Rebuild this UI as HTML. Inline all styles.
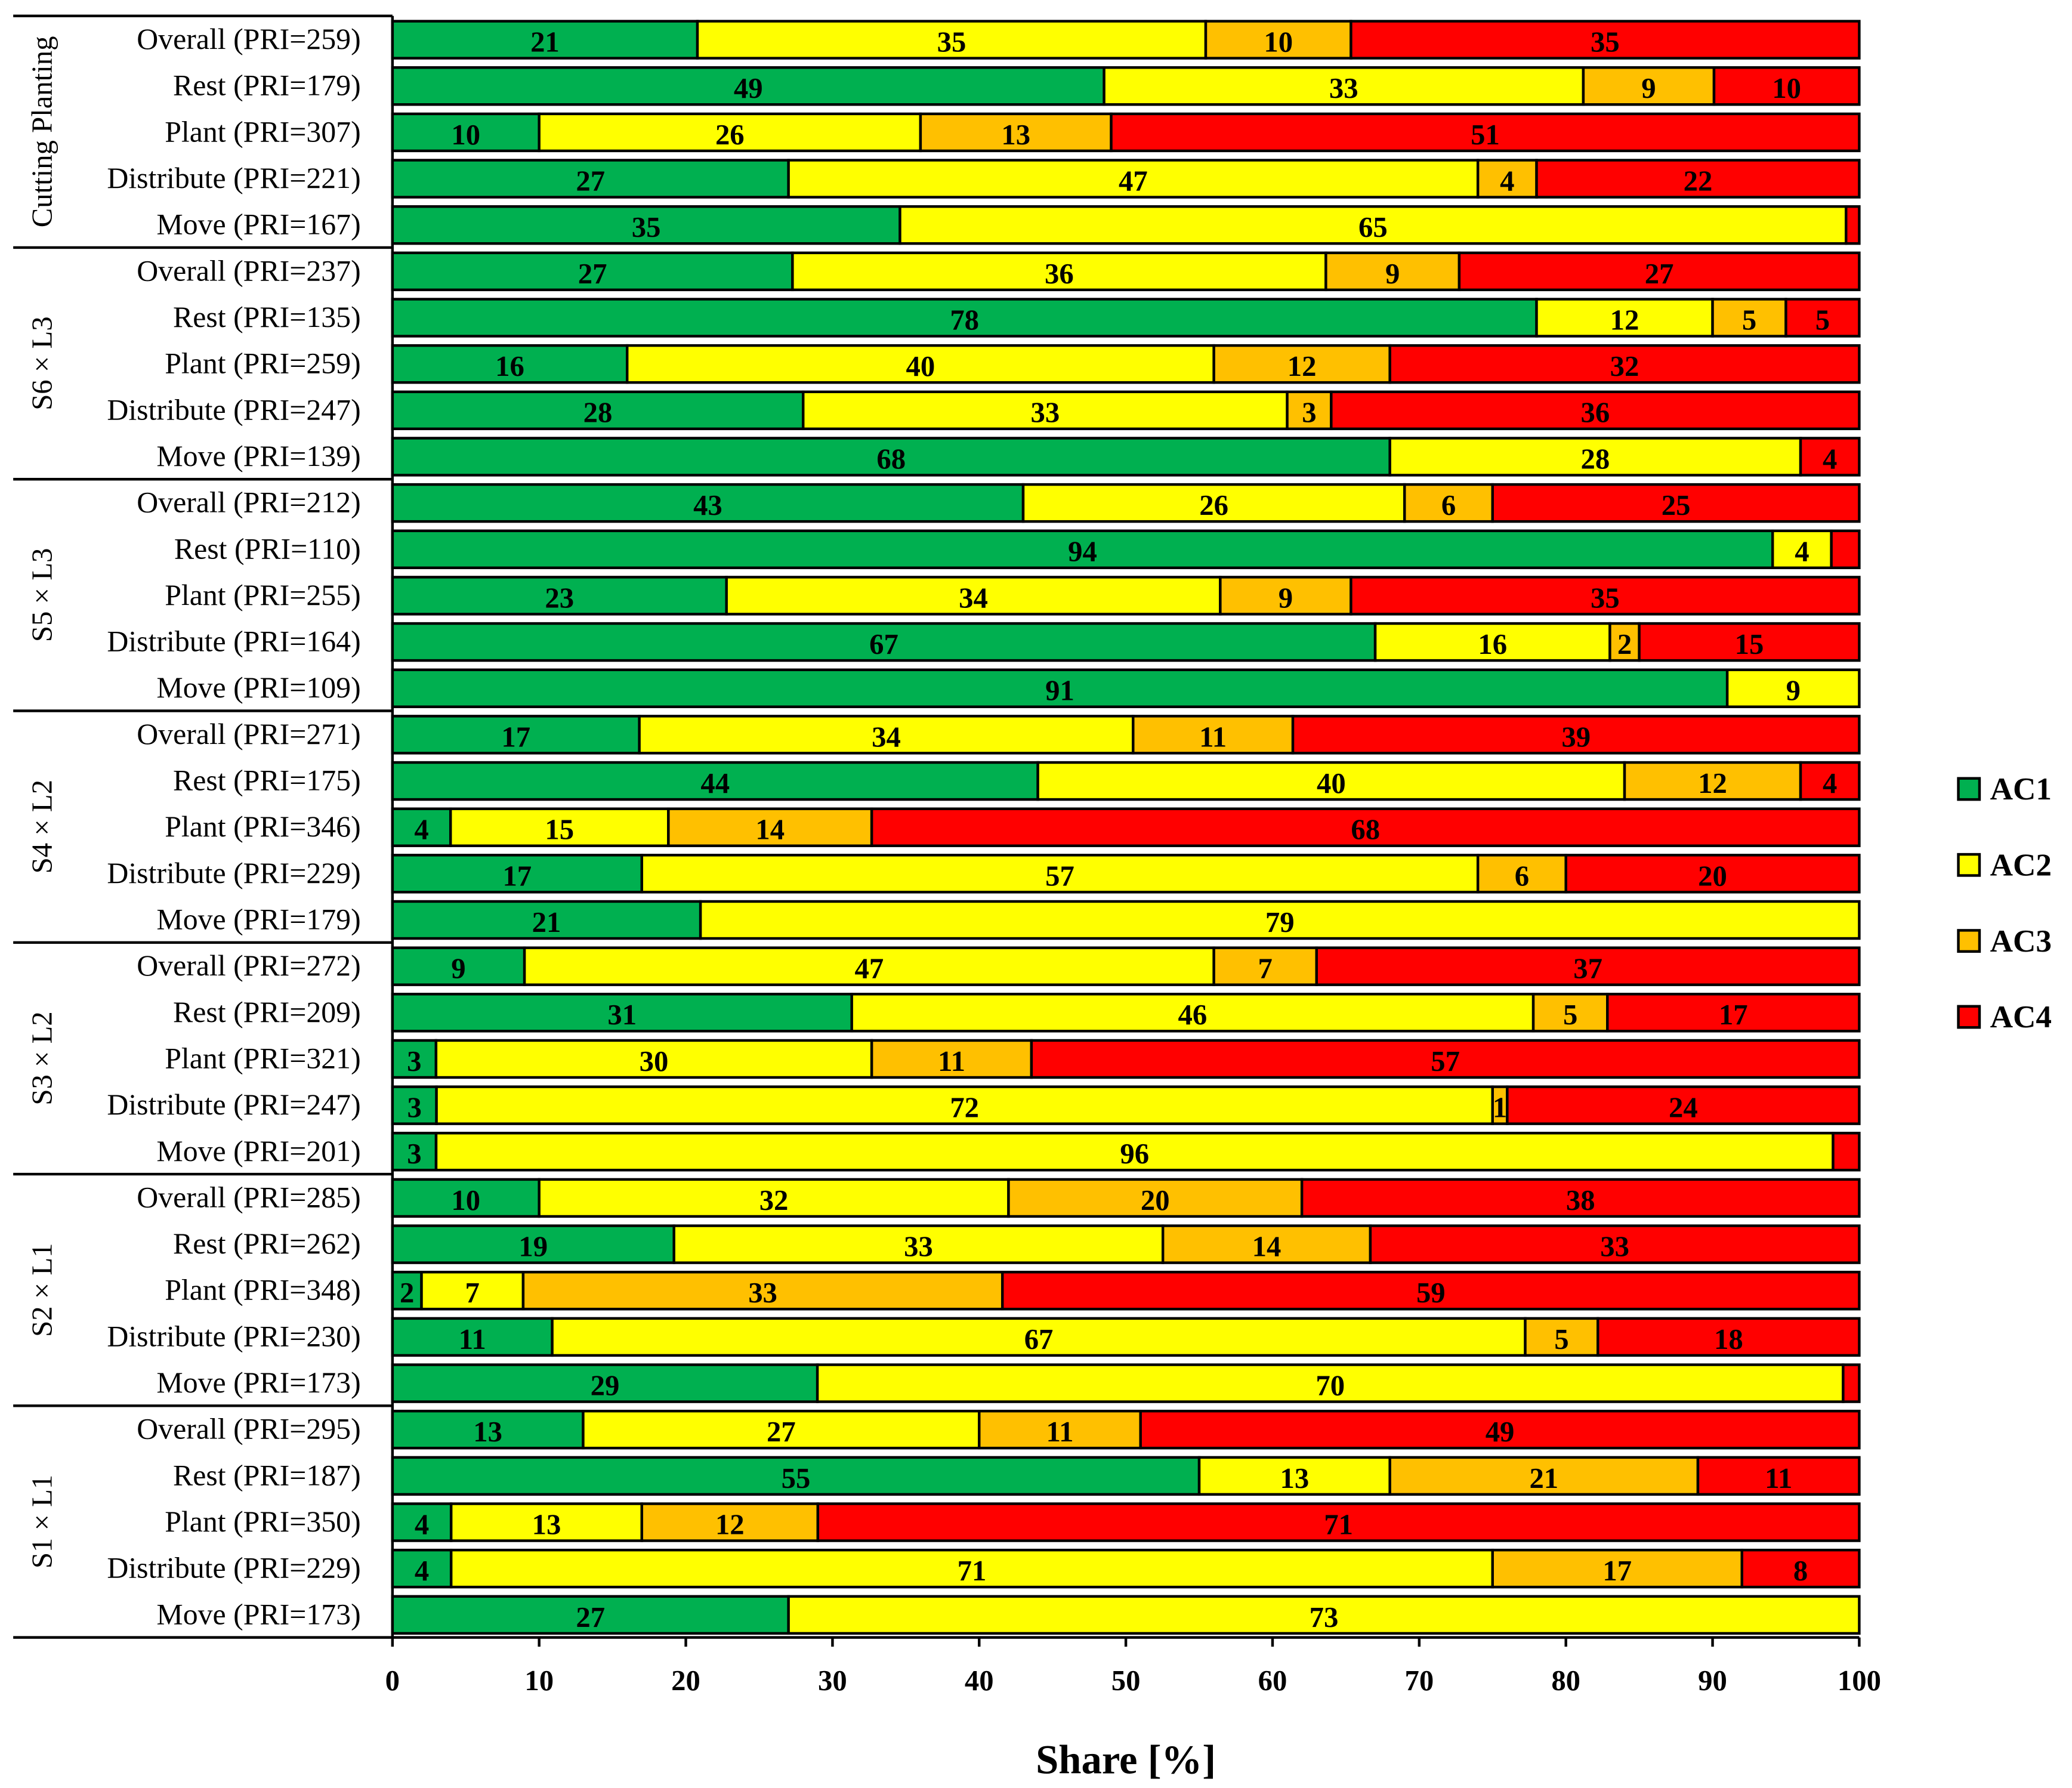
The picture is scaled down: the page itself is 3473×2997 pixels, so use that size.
<!DOCTYPE html>
<html><head><meta charset="utf-8"><style>
html,body{margin:0;padding:0;background:#fff;}
svg{display:block;}
text{font-family:"Liberation Serif",serif;}
</style></head><body>
<svg id="chart" width="3473" height="2997" viewBox="0 0 1568 1353" xmlns="http://www.w3.org/2000/svg"></svg>
<script>
const groups = ["Cutting Planting","S6 × L3","S5 × L3","S4 × L2","S3 × L2","S2 × L1","S1 × L1"];
const tasks = ["Overall","Rest","Plant","Distribute","Move"];
const pri = [259,179,307,221,167, 237,135,259,247,139, 212,110,255,164,109, 271,175,346,229,179, 272,209,321,247,201, 285,262,348,230,173, 295,187,350,229,173];
const ac1 = [21,49,10,27,34.6, 27,78,16,28,68, 43,94,23,67,91, 17,44,4,17,21, 9,31,3,3,3, 10,19,2,11,29, 13,55,4,4,27];
const ac2 = [35,33,26,47,64.5, 36,12,40,33,28, 26,4,34,16,9, 34,40,15,57,79, 47,46,30,72,96, 32,33,7,67,70, 27,13,13,71,73];
const ac3 = [10,9,13,4,0, 9,5,12,3,0, 6,0,9,2,0, 11,12,14,6,0, 7,5,11,1,0, 20,14,33,5,0, 11,21,12,17,0];
const ac4 = [35,10,51,22,0.9, 27,5,32,36,4, 25,1.9,35,15,0, 39,4,68,20,0, 37,17,57,24,1.8, 38,33,59,18,1.1, 49,11,71,8,0];
const xTicks = [0,10,20,30,40,50,60,70,80,90,100];
const seriesNames = ["AC1","AC2","AC3","AC4"];
const colors = ["#00b050","#ffff00","#ffc000","#ff0000"];

const NS="http://www.w3.org/2000/svg";
const svg=document.getElementById('chart');
const X0=297,X1=1407,Y0=12,ROW=35.06,BH=28;
const xs=v=>X0+(X1-X0)*v/100;
const yc=i=>30+i*ROW;
function mk(tag,attrs,parent){const e=document.createElementNS(NS,tag);for(const k in attrs)e.setAttribute(k,attrs[k]);(parent||svg).appendChild(e);return e;}

const series=[ac1,ac2,ac3,ac4];
for(let i=0;i<pri.length;i++){
  const tot=ac1[i]+ac2[i]+ac3[i]+ac4[i];
  let acc=0;
  const lab=mk('text',{x:273,y:yc(i)+7,'text-anchor':'end','font-size':22.5});
  
  
  lab.textContent=tasks[i%5]+" (PRI="+pri[i]+")";
  for(let s=0;s<4;s++){
    const v=series[s][i];
    if(v<=0)continue;
    const a=xs(acc/tot*100),b=xs((acc+v)/tot*100);
    acc+=v;
    const r=mk('rect',{x:a,y:yc(i)-BH/2,width:b-a,height:BH,fill:colors[s],stroke:'#000','stroke-width':2});
    
    
    const show = s===3 ? v>=3 : v>=1;
    if(show){
      const t=mk('text',{x:(a+b)/2,y:yc(i)+9,'text-anchor':'middle','font-size':22,'font-weight':'bold'});
      
      
      t.textContent=Math.round(v);
    }
  }
}
for(let g=0;g<=groups.length;g++){
  const y=Y0+g*5*ROW;
  const l=mk('line',{x1:10,x2:X0,y1:y,y2:y,stroke:'#000','stroke-width':2});
  
  
}
groups.forEach((g,k)=>{
  const cy=Y0+(k+0.5)*5*ROW;
  const t=mk('text',{x:0,y:0,transform:`translate(39,${cy}) rotate(-90)`,'text-anchor':'middle','font-size':22});
  
  
  t.textContent=g;
});
const yBot=Y0+35*ROW;
let ax=mk('line',{x1:X0,x2:X0,y1:Y0,y2:yBot,stroke:'#000','stroke-width':2});


ax=mk('line',{x1:X0,x2:X1,y1:yBot,y2:yBot,stroke:'#000','stroke-width':2});


xTicks.forEach(v=>{
  const tk=mk('line',{x1:xs(v),x2:xs(v),y1:yBot,y2:yBot+7,stroke:'#000','stroke-width':2});
  
  
  const t=mk('text',{x:xs(v),y:yBot+40,'text-anchor':'middle','font-size':22,'font-weight':'bold'});
  
  
  t.textContent=v;
});
const xt=mk('text',{x:852,y:1342,'text-anchor':'middle','font-size':31,'font-weight':'bold'});


xt.textContent="Share [%]";
seriesNames.forEach((n,s)=>{
  const y=597+s*57.5;
  const r=mk('rect',{x:1482,y:y-8,width:16,height:16,fill:colors[s],stroke:'#000','stroke-width':2});
  
  
  const t=mk('text',{x:1506,y:y+8,'font-size':24,'font-weight':'bold'});
  
  
  t.textContent=n;
});
</script>
</body></html>
